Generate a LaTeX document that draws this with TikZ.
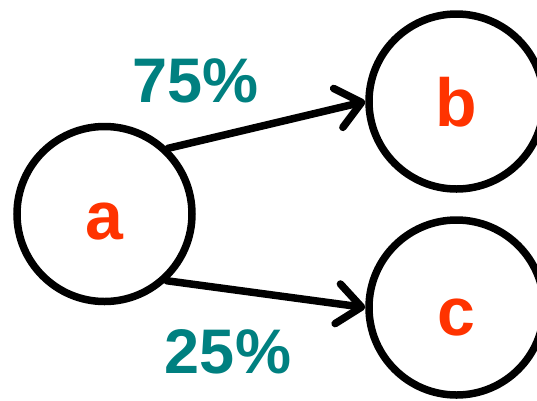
\documentclass[tikz,border=0pt]{standalone}
\usepackage{fontspec}
\setmainfont{Liberation Sans}
\usetikzlibrary{arrows.meta}
\definecolor{lettercol}{RGB}{255,51,0}
\definecolor{pctcol}{RGB}{0,128,128}
\tikzset{
  state/.style={circle, draw=black, line width=7.5pt, minimum size=175pt, inner sep=0pt,
    font=\fontsize{68}{68}\bfseries\selectfont, text=lettercol, text height=50pt, text depth=0pt},
  link/.style={line width=7.5pt, line cap=round,
    -{Straight Barb[length=24pt, width=40pt, line cap=round, line join=round]}},
  pct/.style={anchor=base, inner sep=0pt, font=\fontsize{63}{63}\bfseries\selectfont, text=pctcol}
}
\begin{document}
\begin{tikzpicture}[x=1pt, y=-1pt]
  \useasboundingbox (0,0) rectangle (537,400);
  \node[state] (a) at (104.5,214) {a};
  \node[state] (b) at (456.5,101.5) {b};
  \node[state, text height=56pt] (c) at (456.5,307.5) {c};
  \draw[link] (a.46) -- (b.west);
  \draw[link] (a.-47) -- (c.west);
  \node[pct] (p75) at (195.5,102) {75\%};
  \node[pct] (p25) at (228,373) {25\%};
\end{tikzpicture}
\end{document}
